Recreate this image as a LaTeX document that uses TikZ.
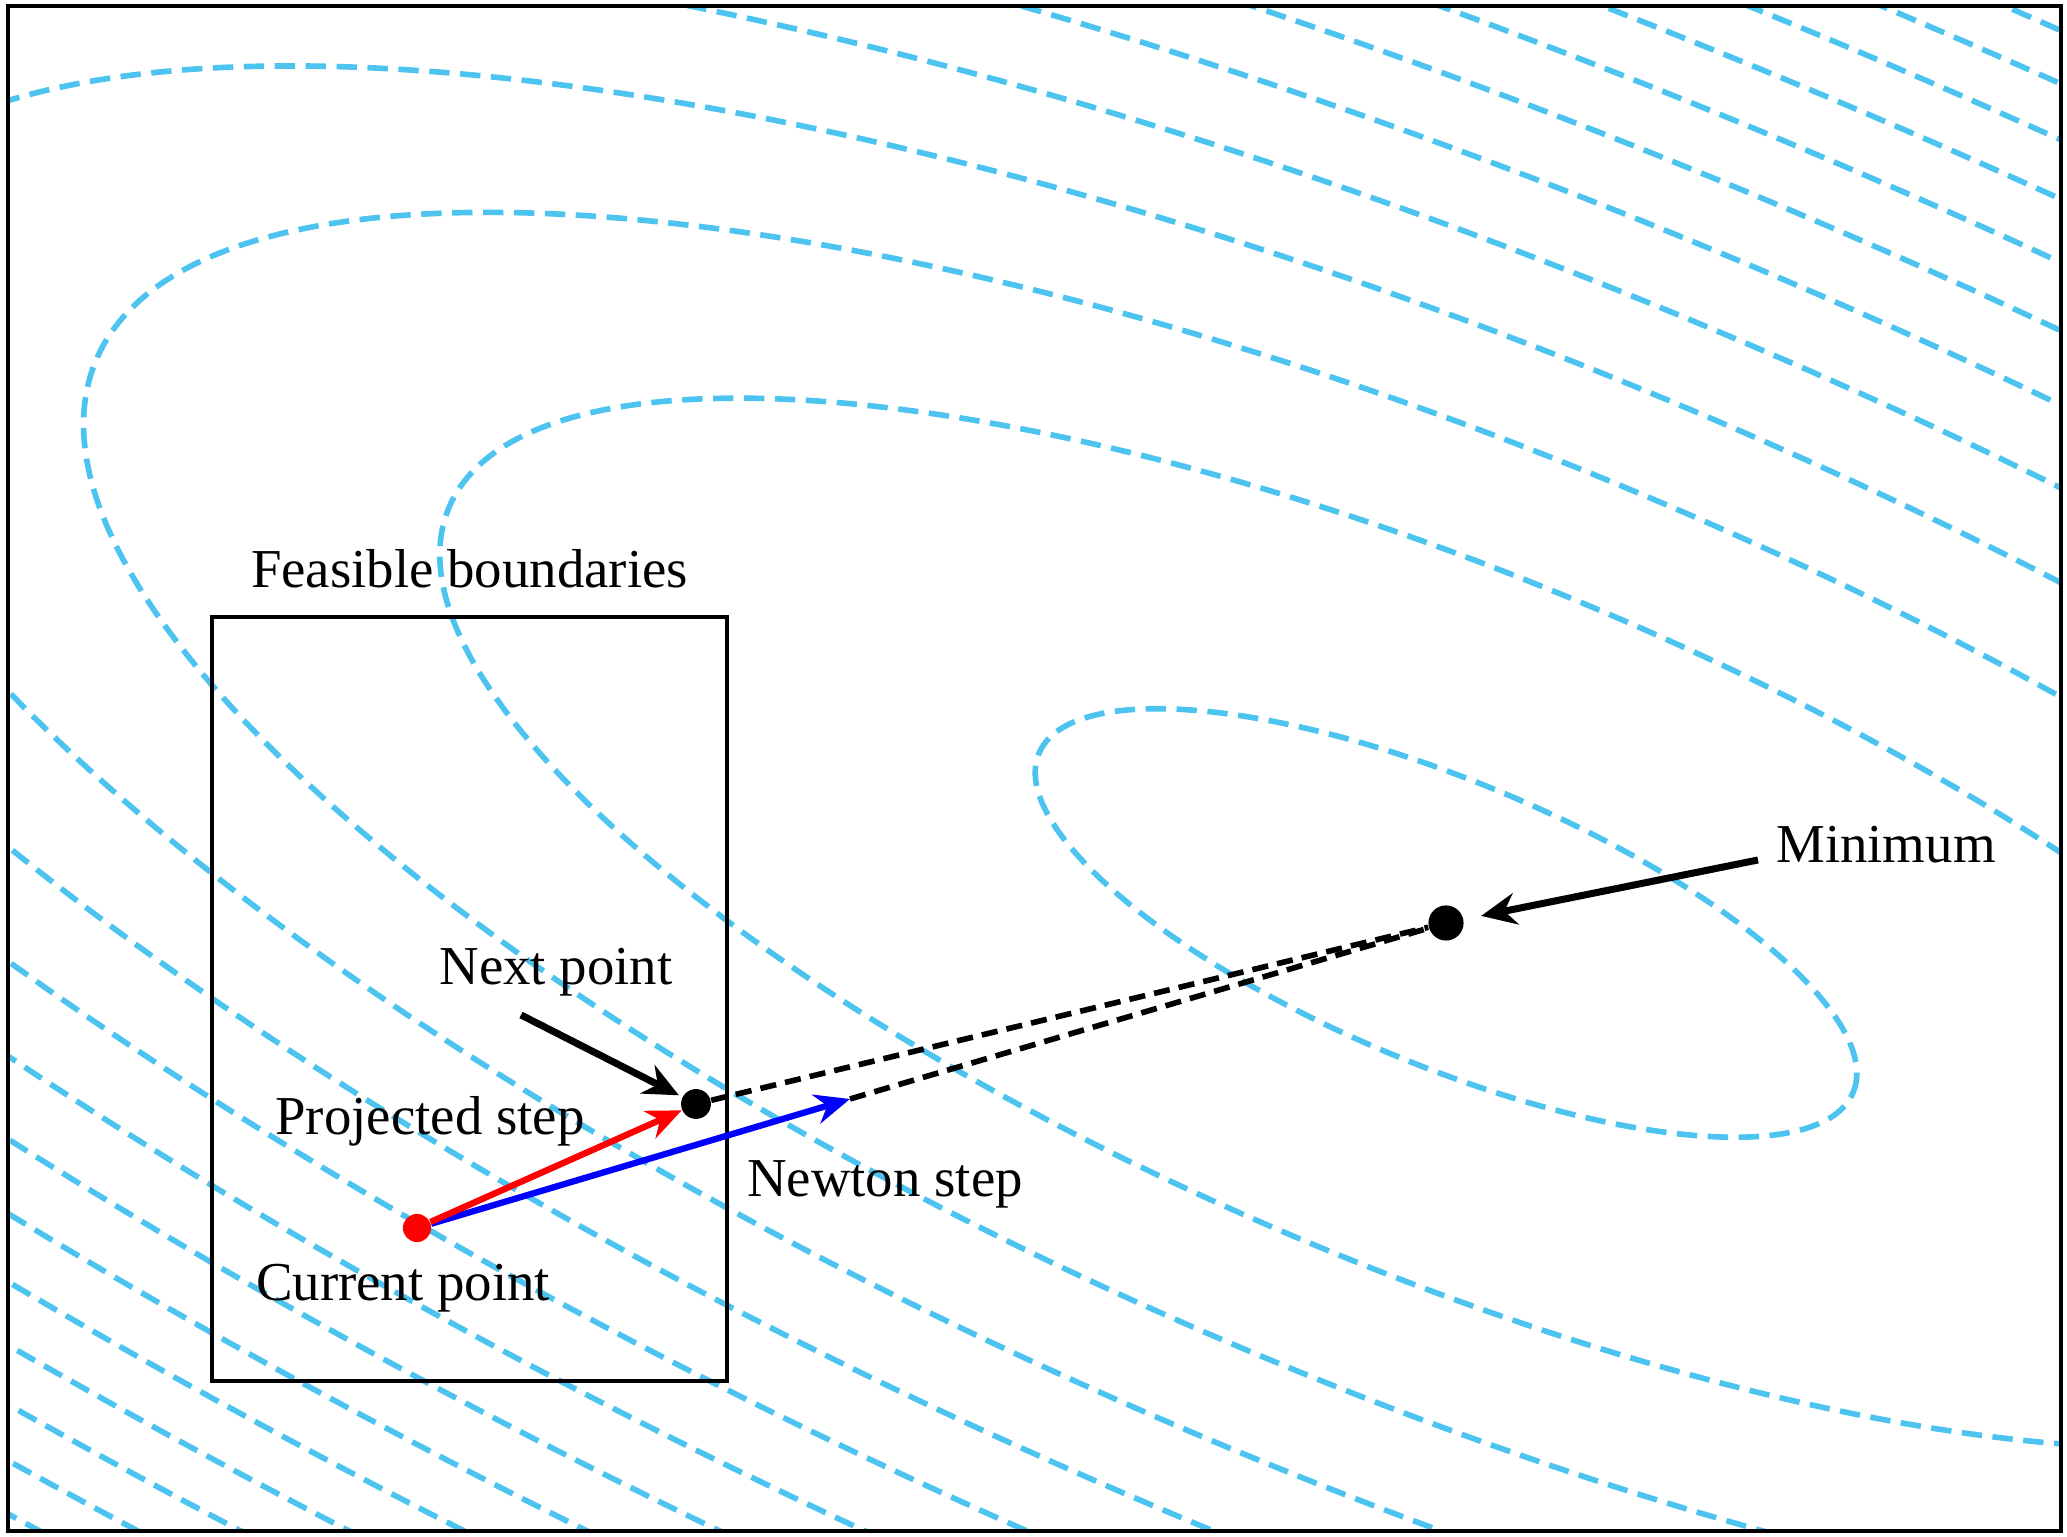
\documentclass[tikz,border=0pt]{standalone}
\usepackage{fontspec}
\setmainfont{Liberation Serif}
\usetikzlibrary{arrows.meta,positioning}
\definecolor{contourblue}{RGB}{77,195,240}
\tikzset{%
contour/.style={draw=contourblue, line width=1.6pt, dash pattern=on 5.8pt off 3pt},
dot/.style={circle, fill, inner sep=0pt, minimum size=#1},
lbl/.style={inner sep=0pt, font=\fontsize{15.6}{18}\selectfont},
pt/.style={line width=1.8pt,->,>={Stealth[length=10pt,width=8.5pt]}},
ptr/.style={line width=2pt,->,>={Stealth[length=10pt,width=9pt]}},
guide/.style={black, line width=1.6pt, dash pattern=on 4.6pt off 2.6pt}
}

\begin{document}
\begin{tikzpicture}
		\useasboundingbox (0,0) rectangle (20.67,15.37);
		% level sets of the objective
		\begin{scope}
		\clip (0.08,0.06) rectangle (20.61,15.31);
		\begin{scope}[shift={(14.46,6.14)}, rotate=-22.6]
		\foreach \k in {0,...,13}
			\draw[contour] (0,0) ellipse [x radius={4.41*sqrt(1+5*\k)}, y radius={1.42*sqrt(1+5*\k)}];
		\end{scope}
		\end{scope}
		\draw[line width=1pt] (0.08,0.06) rectangle (20.61,15.31);

		\node[draw, line width=0.9pt, minimum width=5.15cm, minimum height=7.64cm, inner sep=0pt] (fb) at (4.695,5.38) {};
		\node[lbl] (feaslbl) [above=0.27cm of fb] {Feasible boundaries};

		\node[dot=10pt, black] (mn) at (14.46,6.14) {};
		\node[dot=8.5pt, black] (nxt) at (6.96,4.33) {};
		\node[dot=8pt, red] (cur) at (4.17,3.09) {};
		\coordinate (newt) at (8.50,4.38);
		\coordinate (mtail) at (17.58,6.77);
		\coordinate (ntail) at (5.21,5.22);

		\draw[guide] (nxt) -- (mn);
		\draw[guide] (newt) -- (mn);
		\draw[pt, blue] (cur) -- (newt);
		\draw[pt, red] (cur) -- (nxt);
		\draw[ptr, shorten >=5pt] (mtail) -- (mn);
		\draw[ptr, shorten >=1pt] (ntail) -- (nxt);

		\node[lbl, anchor=base] (nxtlbl) at (5.56,5.52) {Next point};
		\node[lbl, anchor=base] (projlbl) at (4.30,4.02) {Projected step};
		\node[lbl, anchor=base] (curlbl) at (4.03,2.36) {Current point};
		\node[lbl, anchor=base] (newtlbl) at (8.85,3.40) {Newton step};
		\node[lbl, anchor=base] (mnlbl) at (18.86,6.74) {Minimum};
	\end{tikzpicture}
\end{document}
